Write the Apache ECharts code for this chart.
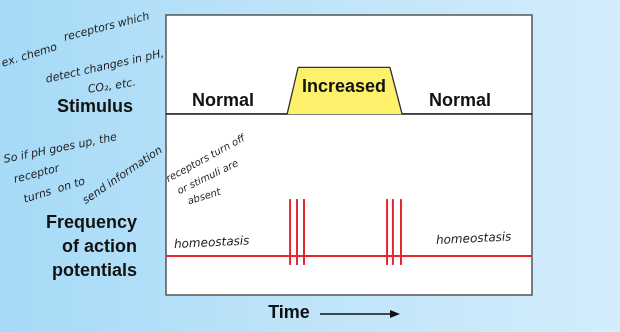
<!DOCTYPE html>
<html>
<head>
<meta charset="utf-8">
<script src="https://cdn.jsdelivr.net/npm/echarts@6/dist/echarts.min.js"></script>
<style>
  html, body { margin: 0; padding: 0; }
  #chart { width: 620px; height: 332px; }
</style>
</head>
<body>
<div id="chart"></div>
<script>
// Stimulus trace: time (0-100) against stimulus level (Normal = 0, Increased = 47)
var stimulusTime  = [0, 33.1, 36.1, 61.2, 64.5, 100];
var stimulusLevel = [0, 0, 47, 47, 0, 0];

// Action potential frequency: resting baseline and burst spikes
var baselineTime  = [0, 100];
var baselineLevel = [21.5, 21.5];
var spikeTimes    = [33.9, 35.8, 37.7, 60.4, 62.0, 64.2];
var spikeLow      = 16.6;
var spikeHigh     = 53;

// Annotations written on the diagram
var noteChemo    = ['ex. chemo', 'receptors which', 'detect changes in pH,', 'CO\u2082, etc.'];
var noteReceptor = ['So if pH goes up, the', 'receptor', 'turns  on to', 'send information'];
var noteOff      = ['receptors turn off', 'or stimuli are', 'absent'];

var chart = echarts.init(document.getElementById('chart'));

function pairs(xs, ys) {
  return xs.map(function (x, i) { return [x, ys[i]]; });
}

var boldFont = '"Liberation Sans", Arial, sans-serif';
var handFont = '"DejaVu Sans", sans-serif';

function hand(text, x, y, rot, size) {
  return {
    type: 'text', x: x, y: y, rotation: rot,
    style: {
      text: text, fill: '#1e1e1e', font: 'italic 300 ' + (size || 11) + 'px ' + handFont,
      textAlign: 'left', textVerticalAlign: 'middle'
    },
    z: 20
  };
}

function bold(text, x, y, align) {
  return {
    type: 'text', x: x, y: y,
    style: {
      text: text, fill: '#111', font: 'bold 18px ' + boldFont,
      textAlign: align || 'center', textVerticalAlign: 'middle'
    },
    z: 20
  };
}

var graphics = [
  // background wash
  {
    type: 'rect', shape: { x: 0, y: 0, width: 620, height: 332 }, z: -10, silent: true,
    style: {
      fill: new echarts.graphic.LinearGradient(0, 0, 1, 0, [
        { offset: 0, color: '#a6daf7' },
        { offset: 0.5, color: '#bfe4f9' },
        { offset: 1, color: '#d3edfb' }
      ])
    }
  },
  bold('Stimulus', 95, 107),
  bold('Frequency', 137, 223, 'right'),
  bold('of action', 137, 247, 'right'),
  bold('potentials', 137, 271, 'right'),
  bold('Normal', 223, 101),
  bold('Increased', 344, 87),
  bold('Normal', 460, 101),
  bold('Time', 289, 313),
  { type: 'line', shape: { x1: 320, y1: 314, x2: 392, y2: 314 }, style: { stroke: '#111', lineWidth: 1.3 }, z: 20 },
  { type: 'polygon', shape: { points: [[400, 314], [390, 310], [390, 318]] }, style: { fill: '#111' }, z: 20 },

  hand(noteChemo[0], 2, 64, 0.3, 11),
  hand(noteChemo[1], 64, 38, 0.25, 11),
  hand(noteChemo[2], 46, 80, 0.22, 11),
  hand(noteChemo[3], 88, 90, 0.15, 11),

  hand(noteReceptor[0], 4, 160, 0.2, 11),
  hand(noteReceptor[1], 14, 180, 0.25, 11),
  hand(noteReceptor[2], 24, 200, 0.3, 11),
  hand(noteReceptor[3], 84, 202, 0.6, 11),

  hand(noteOff[0], 167, 180, 0.5, 10),
  hand(noteOff[1], 178, 192, 0.45, 10),
  hand(noteOff[2], 188, 202, 0.3, 10),

  hand('homeostasis', 174, 245, 0.05, 12),
  hand('homeostasis', 436, 241, 0.05, 12)
];

var option = {
  animation: false,
  backgroundColor: 'transparent',
  graphic: graphics,
  grid: [
    { left: 166, top: 15, width: 366, height: 99, show: true, backgroundColor: '#fff', borderColor: '#555', borderWidth: 1.5 },
    { left: 166, top: 114, width: 366, height: 181, show: true, backgroundColor: '#fff', borderColor: '#555', borderWidth: 1.5 }
  ],
  xAxis: [
    { gridIndex: 0, type: 'value', min: 0, max: 100, show: false },
    { gridIndex: 1, type: 'value', min: 0, max: 100, show: false }
  ],
  yAxis: [
    { gridIndex: 0, type: 'value', min: 0, max: 100, show: false },
    { gridIndex: 1, type: 'value', min: 0, max: 100, show: false }
  ],
  series: [
    {
      name: 'Stimulus', type: 'line', xAxisIndex: 0, yAxisIndex: 0,
      data: pairs(stimulusTime, stimulusLevel),
      symbol: 'none', z: 3,
      lineStyle: { color: '#333', width: 1.3 },
      areaStyle: { color: '#fdf06b', opacity: 1, origin: 'start' }
    },
    {
      name: 'Baseline', type: 'line', xAxisIndex: 1, yAxisIndex: 1,
      data: pairs(baselineTime, baselineLevel),
      symbol: 'none', z: 3,
      lineStyle: { color: '#e3262e', width: 2 }
    },
    {
      name: 'Spikes', type: 'custom', xAxisIndex: 1, yAxisIndex: 1, z: 4,
      data: spikeTimes.map(function (t) { return [t, spikeLow, spikeHigh]; }),
      renderItem: function (params, api) {
        var lo = api.coord([api.value(0), api.value(1)]);
        var hi = api.coord([api.value(0), api.value(2)]);
        return {
          type: 'line',
          shape: { x1: lo[0], y1: lo[1], x2: hi[0], y2: hi[1] },
          style: { stroke: '#e3262e', lineWidth: 2 }
        };
      }
    }
  ]
};

chart.setOption(option);
</script>
</body>
</html>
